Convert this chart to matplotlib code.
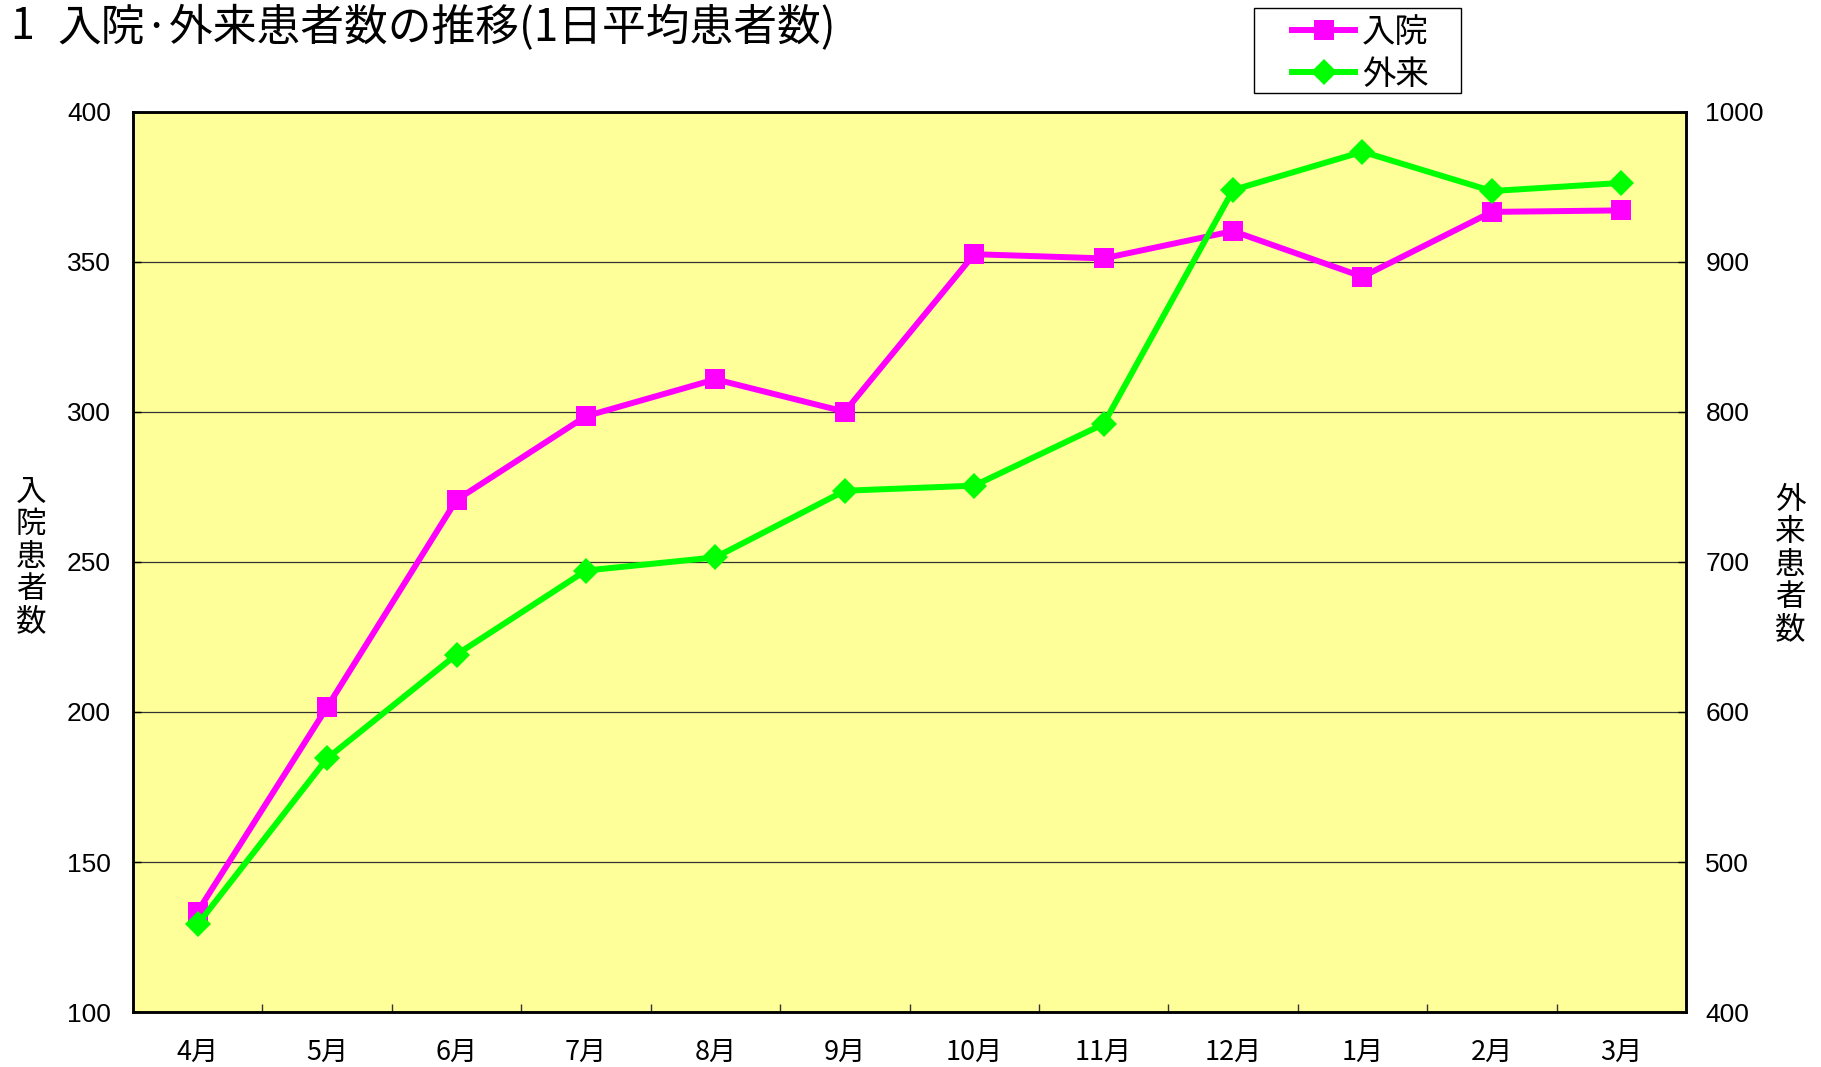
import matplotlib
matplotlib.use("Agg")
import matplotlib.pyplot as plt
from matplotlib.patches import Rectangle
from matplotlib.ticker import FixedLocator, MultipleLocator

plt.rcParams['font.family'] = ['Noto Sans CJK JP', 'DejaVu Sans']

months = ["4月", "5月", "6月", "7月", "8月", "9月", "10月", "11月", "12月", "1月", "2月", "3月"]
inpatient = [133.5, 201.6, 270.7, 298.6, 310.9, 300.1, 352.6, 351.2, 360.3, 345.1, 366.7, 367.2]
outpatient = [458.5, 569.1, 638.3, 694.3, 703.1, 747.5, 750.9, 792.0, 948.0, 973.5, 947.3, 952.7]

W, H = 1821, 1067
fig = plt.figure(figsize=(W / 100, H / 100), dpi=100)
left, right, bottom, top = 133, 1686, 1012, 112
ax = fig.add_axes([left / W, 1 - bottom / H, (right - left) / W, (bottom - top) / H])
ax.set_facecolor("#FFFF99")
ax2 = ax.twinx()

x = list(range(len(months)))
l1, = ax.plot(x, inpatient, color="#FF00FF", lw=4.3, marker="s", markersize=14,
              markeredgewidth=0, label="入院", solid_joinstyle="miter")
l2, = ax2.plot(x, outpatient, color="#00FF00", lw=4.3, marker="D", markersize=13,
               markeredgewidth=0, label="外来", solid_joinstyle="miter")

ax.set_xlim(-0.5, len(months) - 0.5)
ax.set_ylim(100, 400)
ax2.set_ylim(400, 1000)
ax.yaxis.set_major_locator(MultipleLocator(50))
ax2.yaxis.set_major_locator(MultipleLocator(100))
ax.grid(axis="y", color="#333333", lw=0.9)
ax.set_axisbelow(True)

ax.set_xticks(x)
ax.set_xticklabels(months, fontsize=19.5)
ax.xaxis.set_minor_locator(FixedLocator([i + 0.5 for i in range(len(months) - 1)]))
ax.tick_params(axis="x", which="major", length=0, pad=19)
ax.tick_params(axis="x", which="minor", direction="in", length=6, width=1, color="#333333")
ax.tick_params(axis="y", direction="in", length=6, width=1, pad=16, labelsize=19)
ax2.tick_params(axis="y", direction="in", length=6, width=1, pad=14, labelsize=19)
for lab in ax.get_yticklabels() + ax2.get_yticklabels():
    lab.set_family(["Liberation Sans", "DejaVu Sans"])

for a in (ax, ax2):
    for s in a.spines.values():
        s.set_linewidth(1.8)
        s.set_color("black")

fig.text(31 / W, 1 - 557 / H, "入\n院\n患\n者\n数", fontsize=22, ha="center", va="center",
         linespacing=1.05)
fig.text(1790 / W, 1 - 565 / H, "外\n来\n患\n者\n数", fontsize=22, ha="center", va="center",
         linespacing=1.05)

fig.text(10 / W, 1 - 5 / H, "1", fontsize=31, ha="left", va="top")
fig.text(57 / W, 1 - 5 / H, "入院·外来患者数の推移(1日平均患者数)", fontsize=31.5,
         ha="left", va="top")

# legend box drawn separately so the padding matches
fig.patches.append(Rectangle((1254 / W, 1 - 93 / H), 207 / W, 85 / H, transform=fig.transFigure,
                             facecolor="white", edgecolor="black", lw=1.0))
leg = fig.legend(handles=[l1, l2], loc="upper left", bbox_to_anchor=(1292 / W, 1 - 15 / H),
                 fontsize=24, frameon=False, handlelength=1.9, handletextpad=0.2,
                 borderpad=0, labelspacing=0.2, borderaxespad=0)

fig.savefig("out.png", dpi=100, facecolor="white")
